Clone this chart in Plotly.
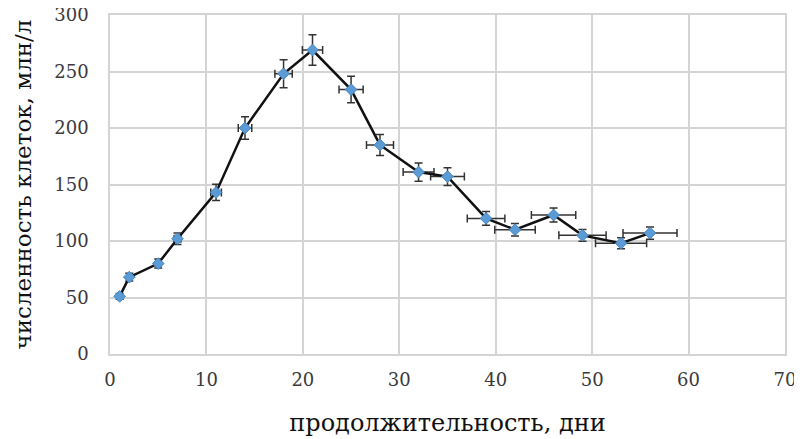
import plotly.graph_objects as go

days = [1, 2, 5, 7, 11, 14, 18, 21, 25, 28, 32, 35, 39, 42, 46, 49, 53, 56]
cells = [51, 68, 80, 102, 143, 200, 248, 269, 234, 185, 161, 157, 120, 110, 123, 105, 98, 107]

x_ticks = [0, 10, 20, 30, 40, 50, 60, 70]
y_ticks = [0, 50, 100, 150, 200, 250, 300]

x_title = "продолжительность, дни"
y_title = "численность клеток, млн/л"

serif = "DejaVu Serif"
grid = "#d4d4d4"

fig = go.Figure()
fig.add_trace(go.Scatter(
    x=days, y=cells, mode="lines+markers",
    line=dict(color="#111111", width=2.5),
    marker=dict(symbol="diamond", size=9, color="#5b9bd5",
                line=dict(color="#4a86c0", width=1)),
    error_x=dict(type="percent", value=5, color="#333333", thickness=1.5, width=4),
    error_y=dict(type="percent", value=5, color="#333333", thickness=1.5, width=4),
))

fig.update_layout(
    width=794, height=431,
    margin=dict(l=102, r=17, t=7, b=85),
    plot_bgcolor="white", paper_bgcolor="white",
    showlegend=False,
    font=dict(family=serif, color="#404040"),
)
fig.update_xaxes(
    range=[0, 70], tickvals=x_ticks, ticktext=[str(v) for v in x_ticks],
    showgrid=True, gridcolor=grid, gridwidth=1.5,
    showline=True, linecolor=grid, linewidth=1.5, mirror=True,
    zeroline=False, ticks="", automargin=False, ticklabeloverflow="allow",
    ticklabelstandoff=9,
    tickfont=dict(size=18, color="#3a3a3a", family=serif),
    title=dict(text=x_title, font=dict(size=24, color="#111111", family=serif), standoff=25),
)
fig.update_yaxes(
    range=[0, 300], tickvals=y_ticks, ticktext=[str(v) for v in y_ticks],
    showgrid=True, gridcolor=grid, gridwidth=1.5,
    showline=True, linecolor=grid, linewidth=1.5, mirror=True,
    zeroline=False, ticks="", automargin=False, ticklabeloverflow="allow",
    ticklabelstandoff=16,
    tickfont=dict(size=18, color="#3a3a3a", family=serif),
    title=dict(text=y_title, font=dict(size=23, color="#111111", family=serif), standoff=16),
)

fig.write_html("out.html")
